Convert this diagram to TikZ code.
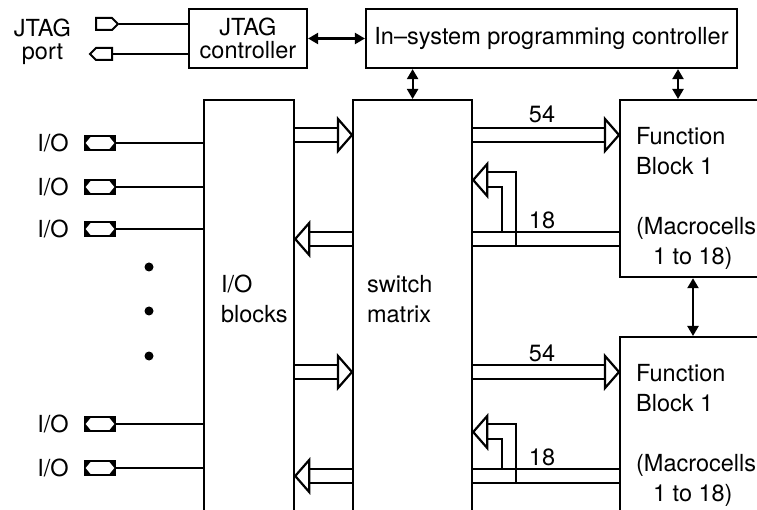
\documentclass[tikz,border=0pt]{standalone}
\usepackage{fontspec}
\setmainfont{TeX Gyre Heros}
\usetikzlibrary{arrows.meta, positioning, calc, shapes.symbols}

% hollow bus arrow: start, tip, direction (1 = right, -1 = left)
\newcommand{\busarrow}[3]{%
  \draw ($#1+(0,-7)$) -- ($#2+({-14*#3},-7)$);
  \draw ($#1+(0,7)$) -- ($#2+({-14*#3},7)$);
  \draw[fill=white] #2 -- ++({-14*#3},-16) -- ++(0,32) -- cycle;}

% feedback bus from the lower bus lines back into the switch matrix
\newcommand{\fbloop}[2]{%
  \draw ($#1+(14,7)$) -| ($#2+(29,-7)$);
  \draw ($#1+(14,-8)$) -| ($#2+(43,7)$);
  \draw[fill=white] #1 -- ++(14,-16) -- ++(0,32) -- cycle;}

\begin{document}
\begin{tikzpicture}[
    x=1pt, y=-1pt,
    line width=2.2pt,
    txt/.style={inner sep=0pt, font=\fontsize{23.5pt}{30pt}\selectfont},
    box/.style={rectangle, draw, inner sep=0pt, align=center, font=\fontsize{23.5pt}{23pt}\selectfont},
    pin/.style={signal, draw, signal pointer angle=90, minimum width=22pt, minimum height=12pt, inner sep=0pt, line width=2pt},
    pad/.style={rectangle, draw, fill=black, minimum width=31pt, minimum height=14pt, inner sep=0pt, line width=1.6pt,
      path picture={\fill[white] ([xshift=1.2pt]path picture bounding box.west)
        -- ([xshift=6pt,yshift=-1.2pt]path picture bounding box.north west)
        -- ([xshift=-6pt,yshift=-1.2pt]path picture bounding box.north east)
        -- ([xshift=-1.2pt]path picture bounding box.east)
        -- ([xshift=-6pt,yshift=1.2pt]path picture bounding box.south east)
        -- ([xshift=6pt,yshift=1.2pt]path picture bounding box.south west) -- cycle;}},
    dbl/.style={{Triangle[length=10pt,width=11pt]}-{Triangle[length=10pt,width=11pt]}}
  ]
    \useasboundingbox (0,0) rectangle (757,510);
    \clip (0,0) rectangle (757,510);

    % JTAG side
    \node[txt, align=center, font=\fontsize{23.5pt}{23pt}\selectfont] (port) at (42.5,41.5) {JTAG\\port};
    \node[box, minimum width=118pt, minimum height=59pt] (jtag) at (248,38.5) {JTAG\\controller};
    \node[box, minimum width=371pt, minimum height=59pt] (isp) at (551.5,38.5) {In--system programming controller};
    \node[pin, signal to=east] (tdi) at (104,24) {};
    \node[pin, signal to=west] (tdo) at (104,54) {};
    \draw (tdi.east) -- (tdi.east -| jtag.west);
    \draw (tdo.east) -- (tdo.east -| jtag.west);
    \draw[dbl] (jtag) -- (isp);

    % main blocks
    \node[box, anchor=north west, minimum width=90pt, minimum height=450pt] (iob) at (203,99) {};
    \node[box, anchor=north west, minimum width=119pt, minimum height=450pt] (swm) at (352,99) {};
    \node[box, anchor=north west, minimum width=200pt, minimum height=177pt] (fb1) at (619,99) {};
    \node[box, anchor=north west, minimum width=200pt, minimum height=250pt] (fb2) at (619,336) {};
    \node[txt, anchor=north west, align=left] (iobtxt) at (220,274) {I/O\\blocks};
    \node[txt, anchor=north west, align=left] (swmtxt) at (366,274) {switch\\matrix};
    \node[txt, anchor=north west, align=left] (fb1txt) at (635,126) {Function\\Block 1\\[30pt](Macrocells\\\hspace*{17pt}1 to 18)};
    \node[txt, anchor=north west, align=left] (fb2txt) at (635,363) {Function\\Block 1\\[30pt](Macrocells\\\hspace*{17pt}1 to 18)};

    % programming links
    \coordinate (ispfb) at ([xshift=59pt]fb1.north west);
    \coordinate (fbfb) at ([xshift=74pt]fb1.south west);
    \draw[dbl] (isp.south -| swm.north) -- (swm.north);
    \draw[dbl] (ispfb |- isp.south) -- (ispfb);
    \draw[dbl] (fbfb) -- (fbfb |- fb2.north);

    % I/O pads
    \foreach \n/\y in {1/143,2/187,3/229,4/424,5/468} {
      \node[pad] (pad\n) at (100,\y) {};
      \node[txt, left=14pt of pad\n] (io\n) {I/O};
      \draw (pad\n.east) -- (pad\n.east -| iob.west);
    }
    \foreach \y in {267,311,356}
      \fill (149,\y) circle (4.5pt);

    % buses
    \coordinate (ra) at (0,135);
    \coordinate (rb) at (0,239);
    \coordinate (rc) at (0,372);
    \coordinate (rd) at (0,476);
    \busarrow{(iob.east |- ra)}{(swm.west |- ra)}{1}
    \busarrow{(swm.west |- rb)}{(iob.east |- rb)}{-1}
    \busarrow{(iob.east |- rc)}{(swm.west |- rc)}{1}
    \busarrow{(swm.west |- rd)}{(iob.east |- rd)}{-1}
    \busarrow{(swm.east |- ra)}{(fb1.west |- ra)}{1}
    \busarrow{(swm.east |- rc)}{(fb2.west |- rc)}{1}
    \foreach \r in {rb,rd} {
      \draw ($(swm.east |- \r)+(0,-7)$) -- ($(fb1.west |- \r)+(0,-7)$);
      \draw ($(swm.east |- \r)+(0,7)$) -- ($(fb1.west |- \r)+(0,7)$);
    }
    \coordinate (fba) at (swm.east |- 0,180);
    \coordinate (fbb) at (swm.east |- 0,432);
    \fbloop{(fba)}{(swm.east |- rb)}
    \fbloop{(fbb)}{(swm.east |- rd)}
    \node[txt] (w54a) at (542,114) {54};
    \node[txt] (w18a) at (542,220) {18};
    \node[txt] (w54b) at (542,353) {54};
    \node[txt] (w18b) at (542,457) {18};
  \end{tikzpicture}
\end{document}
